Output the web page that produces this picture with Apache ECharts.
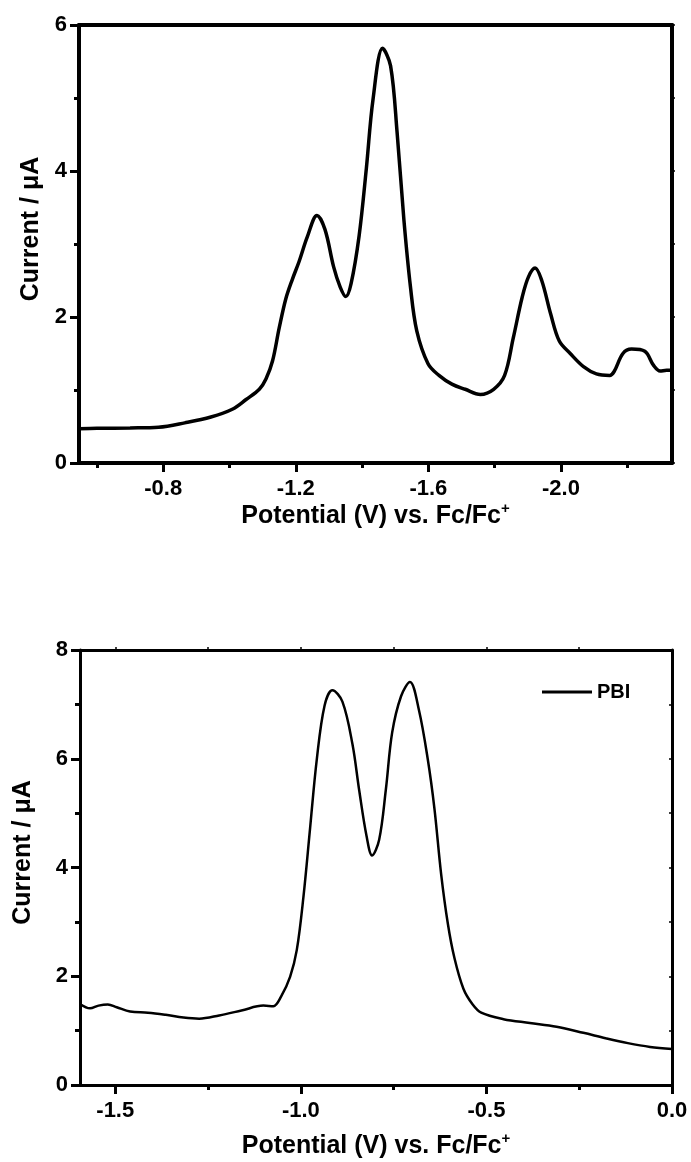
<!DOCTYPE html>
<html>
<head>
<meta charset="utf-8">
<script src="https://cdn.jsdelivr.net/npm/echarts@6/dist/echarts.min.js"></script>
<style>
html,body{margin:0;padding:0;background:#fff;}
#chart{width:691px;height:1162px;}
</style>
</head>
<body>
<div id="chart"></div>
<script>
// ---- Top panel data ----
var potentialTop = [-0.546,-0.60,-0.70,-0.786,-0.865,-0.944,-1.01,-1.05,-1.09,-1.11,-1.13,-1.15,-1.17,-1.19,-1.21,-1.235,-1.264,-1.288,-1.314,-1.334,-1.351,-1.367,-1.391,-1.413,-1.433,-1.462,-1.486,-1.506,-1.526,-1.546,-1.565,-1.599,-1.632,-1.671,-1.711,-1.757,-1.797,-1.83,-1.856,-1.883,-1.902,-1.922,-1.942,-1.969,-1.995,-2.028,-2.068,-2.107,-2.147,-2.16,-2.187,-2.213,-2.253,-2.279,-2.299,-2.319,-2.335];
var currentTop = [0.47,0.475,0.48,0.49,0.55,0.63,0.74,0.87,1.01,1.15,1.40,1.85,2.25,2.52,2.76,3.10,3.39,3.20,2.69,2.41,2.28,2.46,3.11,4.04,4.98,5.68,5.44,4.51,3.34,2.41,1.81,1.36,1.20,1.08,1.01,0.94,1.01,1.20,1.71,2.27,2.55,2.67,2.50,2.04,1.67,1.50,1.32,1.22,1.20,1.25,1.50,1.56,1.53,1.34,1.26,1.27,1.27];
var topMajorTicks = [-2.0,-1.6,-1.2,-0.8];
var topMinorTicks = [-2.2,-1.8,-1.4,-1.0,-0.6];

// ---- Bottom panel data (PBI) ----
var potentialBottom = [-1.595,-1.568,-1.545,-1.52,-1.496,-1.46,-1.412,-1.364,-1.316,-1.274,-1.22,-1.16,-1.101,-1.074,-1.053,-1.029,-1.011,-0.993,-0.975,-0.957,-0.936,-0.915,-0.888,-0.861,-0.843,-0.823,-0.808,-0.789,-0.771,-0.754,-0.730,-0.706,-0.682,-0.658,-0.640,-0.622,-0.604,-0.586,-0.562,-0.538,-0.514,-0.454,-0.383,-0.311,-0.239,-0.179,-0.119,-0.059,0];
var currentBottom = [1.49,1.41,1.46,1.48,1.43,1.35,1.33,1.29,1.24,1.22,1.28,1.37,1.46,1.45,1.63,1.99,2.48,3.46,4.73,5.99,6.98,7.26,7.05,6.27,5.43,4.58,4.22,4.51,5.43,6.48,7.15,7.41,6.90,5.99,5.08,3.88,2.97,2.33,1.77,1.49,1.33,1.21,1.14,1.07,0.96,0.86,0.77,0.70,0.66];
var bottomMajorTicks = [-1.5,-1.0,-0.5,0.0];
var bottomMinorTicks = [-1.25,-0.75,-0.25];
var seriesName = 'PBI';
var xTitle = 'Potential (V) vs. Fc/Fc{sup|+}';
var yTitle = 'Current / \u03bcA';

function pairs(xs, ys){ return xs.map(function(x,i){ return [x, ys[i]]; }); }

var FONT = '"Liberation Sans", Arial, sans-serif';
var black = '#000';

function xMain(gridIndex, min, max, inverse, ticks, lw, gap){
  return {
    type:'value', gridIndex:gridIndex, position:'bottom', min:min, max:max, inverse:inverse,
    axisLine:{show:true, onZero:false, lineStyle:{color:black, width:lw}},
    axisTick:{show:true, inside:false, length:9, customValues:ticks, lineStyle:{color:black, width:3}},
    axisLabel:{show:true, customValues:ticks, margin:15, color:black, fontFamily:FONT, fontWeight:'bold', fontSize:22,
      formatter:function(v){ return v.toFixed(1); }},
    splitLine:{show:false},
    name:xTitle, nameLocation:'middle', nameGap:gap,
    nameTextStyle:{color:black, fontFamily:FONT, fontWeight:'bold', fontSize:25, lineHeight:30,
      rich:{sup:{fontFamily:FONT, fontWeight:'bold', fontSize:15, verticalAlign:'top', lineHeight:16, color:black}}}
  };
}
function xMinor(gridIndex, min, max, inverse, ticks){
  return {
    type:'value', gridIndex:gridIndex, position:'bottom', min:min, max:max, inverse:inverse,
    axisLine:{show:false, onZero:false},
    axisTick:{show:true, inside:false, length:5, customValues:ticks, lineStyle:{color:black, width:3}},
    axisLabel:{show:false}, splitLine:{show:false}
  };
}
function xTop(gridIndex, min, max, inverse, lw, ticks){
  return {
    type:'value', gridIndex:gridIndex, position:'top', min:min, max:max, inverse:inverse,
    axisLine:{show:true, onZero:false, lineStyle:{color:black, width:lw}},
    axisTick:{show:!!ticks, inside:false, length:3, customValues:ticks||[], lineStyle:{color:black, width:1.5}},
    axisLabel:{show:false}, splitLine:{show:false}
  };
}
function yMain(gridIndex, max, lw, gap){
  return {
    type:'value', gridIndex:gridIndex, position:'left', min:0, max:max, interval:2,
    axisLine:{show:true, onZero:false, lineStyle:{color:black, width:lw}},
    axisTick:{show:true, inside:false, length:9, lineStyle:{color:black, width:3}},
    minorTick:{show:true, splitNumber:2, length:5, lineStyle:{color:black, width:3}},
    axisLabel:{margin:12, color:black, fontFamily:FONT, fontWeight:'bold', fontSize:22},
    splitLine:{show:false}, minorSplitLine:{show:false},
    name:yTitle, nameLocation:'middle', nameGap:gap,
    nameTextStyle:{color:black, fontFamily:FONT, fontWeight:'bold', fontSize:25, padding:[0,0,0,30]}
  };
}
function yRight(gridIndex, max, lw, inside){
  return {
    type:'value', gridIndex:gridIndex, position:'right', min:0, max:max, interval:1,
    axisLine:{show:true, onZero:false, lineStyle:{color:black, width:lw}},
    axisTick:{show:true, inside:inside, length:3, lineStyle:{color:black, width:1.5}},
    axisLabel:{show:false}, splitLine:{show:false}
  };
}

var option = {
  animation:false,
  backgroundColor:'#fff',
  grid:[
    {left:79, top:25, width:593, height:438},
    {left:80, top:650, width:592, height:437}
  ],
  legend:{
    data:[{name:seriesName, icon:'rect'}], left:537, top:677, itemWidth:50, itemHeight:3, itemGap:6,
    textStyle:{color:black, fontFamily:FONT, fontWeight:'bold', fontSize:20}
  },
  xAxis:[
    xMain(0, -2.335, -0.546, true, topMajorTicks, 4, 38),
    xMinor(0, -2.335, -0.546, true, topMinorTicks),
    xTop(0, -2.335, -0.546, true, 4, null),
    xMain(1, -1.595, 0, false, bottomMajorTicks, 3, 46),
    xMinor(1, -1.595, 0, false, bottomMinorTicks),
    xTop(1, -1.595, 0, false, 3, [-1.5,-1.25,-1.0,-0.75,-0.5,-0.25])
  ],
  yAxis:[
    yMain(0, 6, 4, 34),
    yRight(0, 6, 4, false),
    yMain(1, 8, 3, 44),
    yRight(1, 8, 3, true)
  ],
  series:[
    {type:'line', name:'top', xAxisIndex:0, yAxisIndex:0, data:pairs(potentialTop, currentTop),
      showSymbol:false, symbol:'none', smooth:0.35, lineStyle:{color:black, width:3.5}, itemStyle:{color:black}},
    {type:'line', name:seriesName, xAxisIndex:3, yAxisIndex:2, data:pairs(potentialBottom, currentBottom),
      showSymbol:false, symbol:'none', smooth:0.35, lineStyle:{color:black, width:2.5}, itemStyle:{color:black}}
  ]
};
var chart = echarts.init(document.getElementById('chart'), null, {renderer:'canvas'});
chart.setOption(option);
</script>
</body>
</html>
